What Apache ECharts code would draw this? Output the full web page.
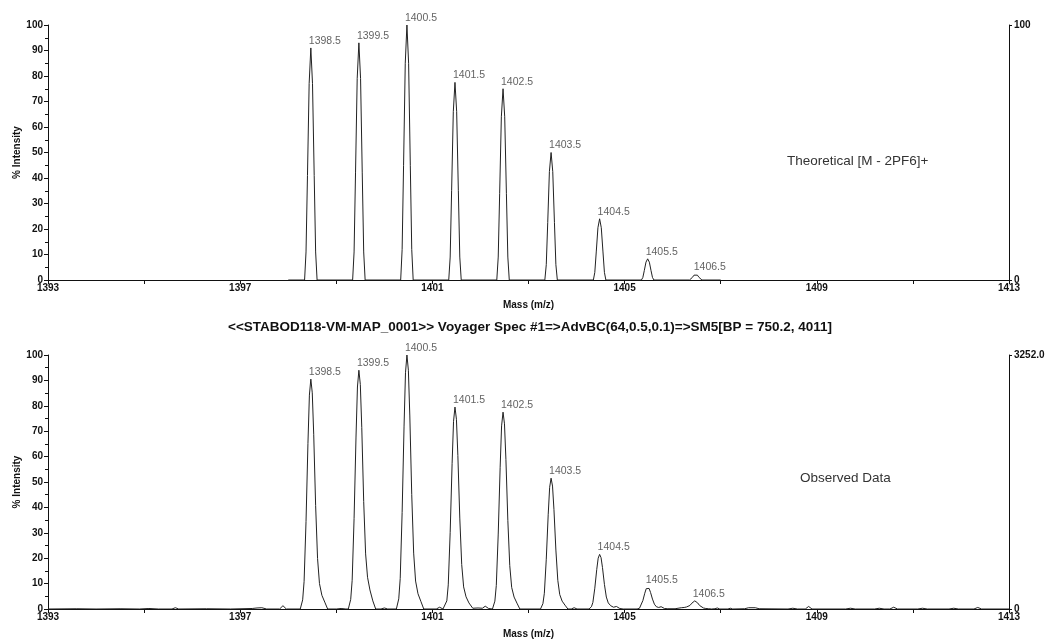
<!DOCTYPE html>
<html>
<head>
<meta charset="utf-8">
<script src="https://cdn.jsdelivr.net/npm/echarts@6/dist/echarts.min.js"></script>
<style>
  html, body { margin: 0; padding: 0; background: #fff; }
  #chart { width: 1050px; height: 641px; }
</style>
</head>
<body>
<div id="chart"></div>
<script>
// m/z axis ticks
const massTicks = { min: 1393, max: 1413, step: 4 };

// Theoretical isotope pattern, [m/z, % intensity]
const theoreticalSpectrum = [
  [1398.0, 0],
  [1398.34, 0], [1398.37, 11], [1398.40, 41], [1398.435, 77], [1398.47, 91], [1398.505, 77], [1398.54, 41], [1398.57, 11], [1398.60, 0],
  [1399.34, 0], [1399.37, 11], [1399.40, 42], [1399.435, 79], [1399.47, 93], [1399.505, 79], [1399.54, 42], [1399.57, 11], [1399.60, 0],
  [1400.34, 0], [1400.37, 12], [1400.40, 45], [1400.435, 85], [1400.47, 100], [1400.505, 85], [1400.54, 45], [1400.57, 12], [1400.60, 0],
  [1401.34, 0], [1401.37, 9], [1401.40, 35], [1401.435, 66], [1401.47, 77.5], [1401.505, 66], [1401.54, 35], [1401.57, 9], [1401.60, 0],
  [1402.34, 0], [1402.37, 9], [1402.40, 34], [1402.435, 64], [1402.47, 75], [1402.505, 64], [1402.54, 34], [1402.57, 9], [1402.60, 0],
  [1403.34, 0], [1403.37, 6], [1403.40, 22.5], [1403.435, 42.5], [1403.47, 50], [1403.505, 42.5], [1403.54, 22.5], [1403.57, 6], [1403.60, 0],
  [1404.35, 0], [1404.38, 3], [1404.41, 11], [1404.445, 20.5], [1404.48, 24], [1404.515, 20.5], [1404.55, 11], [1404.58, 3], [1404.61, 0],
  [1405.35, 0], [1405.38, 1], [1405.41, 3.7], [1405.445, 7], [1405.48, 8.3], [1405.515, 7], [1405.55, 3.7], [1405.58, 1], [1405.61, 0],
  [1406.35, 0], [1406.38, 0.3], [1406.41, 1], [1406.445, 1.9], [1406.48, 2.2], [1406.515, 1.9], [1406.55, 1], [1406.58, 0.3], [1406.61, 0],
  [1407.0, 0]
];

// Measured profile, [m/z, % intensity]
const observedSpectrum = [
  [1393.0, 0], [1393.6, 0.1], [1394.0, 0], [1394.5, 0.1], [1394.9, 0], [1395.1, 0.2], [1395.3, 0],
  [1395.58, 0], [1395.65, 0.5], [1395.72, 0], [1396.3, 0.1], [1396.8, 0], [1397.25, 0.2],
  [1397.35, 0.4], [1397.45, 0.5], [1397.55, 0], [1397.82, 0], [1397.89, 1.3], [1397.96, 0],
  [1398.25, 0], [1398.30, 3.6], [1398.33, 10.9], [1398.37, 34.4], [1398.41, 65.2], [1398.44, 84.2], [1398.47, 90.5],
  [1398.50, 85.1], [1398.53, 68.8], [1398.57, 40.7], [1398.61, 19.9], [1398.65, 10], [1398.70, 5.4], [1398.76, 2.7], [1398.82, 0],
  [1399.0, 0], [1399.1, 0.2], [1399.2, 0],
  [1399.25, 0], [1399.30, 3.8], [1399.33, 11.3], [1399.37, 35.7], [1399.41, 67.7], [1399.44, 87.4], [1399.47, 94],
  [1399.50, 88.4], [1399.53, 71.4], [1399.57, 42.3], [1399.61, 21.7], [1399.65, 12.5], [1399.70, 7.5], [1399.76, 3.2], [1399.82, 0],
  [1399.93, 0], [1400.0, 0.4], [1400.07, 0],
  [1400.25, 0], [1400.30, 4], [1400.33, 12], [1400.37, 38], [1400.41, 72], [1400.44, 93], [1400.47, 100],
  [1400.50, 94], [1400.53, 76], [1400.57, 45], [1400.61, 22], [1400.65, 11], [1400.70, 6], [1400.76, 3], [1400.82, 0],
  [1401.08, 0], [1401.15, 0.7], [1401.22, 0],
  [1401.25, 0], [1401.30, 3.2], [1401.33, 9.5], [1401.37, 30.2], [1401.41, 57.2], [1401.44, 73.9], [1401.47, 79.5],
  [1401.50, 74.7], [1401.53, 60.4], [1401.57, 35.8], [1401.61, 17.5], [1401.65, 8.7], [1401.70, 4.8], [1401.76, 2.4], [1401.84, 0.3],
  [1401.95, 0.4], [1402.04, 0.3], [1402.10, 1.1], [1402.17, 0.2],
  [1402.25, 0], [1402.30, 3.1], [1402.33, 9.3], [1402.37, 29.5], [1402.41, 55.8], [1402.44, 72.1], [1402.47, 77.5],
  [1402.50, 72.9], [1402.53, 58.9], [1402.57, 34.9], [1402.61, 17.1], [1402.65, 8.5], [1402.70, 4.7], [1402.76, 2.3], [1402.82, 0],
  [1403.25, 0], [1403.30, 2.1], [1403.33, 6.2], [1403.37, 19.6], [1403.41, 37.1], [1403.44, 47.9], [1403.47, 51.5],
  [1403.50, 48.4], [1403.53, 39.1], [1403.57, 23.2], [1403.61, 11.3], [1403.65, 5.7], [1403.70, 3.1], [1403.76, 1.5], [1403.82, 0],
  [1403.89, 0], [1403.95, 0.5], [1404.01, 0],
  [1404.26, 0], [1404.31, 0.9], [1404.34, 2.6], [1404.38, 8.2], [1404.42, 15.5], [1404.45, 20], [1404.48, 21.5],
  [1404.51, 20.2], [1404.54, 16.3], [1404.58, 9.7], [1404.62, 4.7], [1404.66, 2.4], [1404.71, 1.3], [1404.77, 0.7], [1404.83, 1.0], [1404.9, 0.2], [1404.97, 0],
  [1405.26, 0], [1405.31, 0.3], [1405.34, 1], [1405.38, 3.3], [1405.42, 6.2], [1405.45, 8], [1405.48, 8.6],
  [1405.51, 8.1], [1405.54, 6.5], [1405.58, 3.9], [1405.62, 1.9], [1405.66, 0.9], [1405.71, 0.6], [1405.76, 0.9], [1405.83, 0.2], [1405.9, 0.1],
  [1406.05, 0.1], [1406.18, 0.5], [1406.24, 0.6], [1406.29, 0.8], [1406.32, 1.0], [1406.36, 1.4], [1406.40, 2.3], [1406.43, 3.0], [1406.46, 3.2],
  [1406.49, 3.0], [1406.52, 2.4], [1406.56, 1.4], [1406.60, 0.7], [1406.64, 0.4], [1406.69, 0.2], [1406.75, 0.1], [1406.81, 0],
  [1406.88, 0.1], [1406.93, 0.4], [1406.98, 0],
  [1407.15, 0], [1407.2, 0.3], [1407.25, 0], [1407.5, 0.1], [1407.58, 0.5], [1407.72, 0.5], [1407.8, 0.1],
  [1408.4, 0], [1408.5, 0.3], [1408.6, 0], [1408.76, 0], [1408.83, 1.0], [1408.9, 0],
  [1409.6, 0], [1409.7, 0.3], [1409.8, 0], [1410.2, 0], [1410.3, 0.3], [1410.4, 0],
  [1410.52, 0], [1410.6, 0.7], [1410.68, 0], [1411.1, 0], [1411.2, 0.3], [1411.3, 0],
  [1411.75, 0], [1411.85, 0.3], [1411.95, 0], [1412.27, 0], [1412.35, 0.6], [1412.43, 0], [1413.0, 0]
];

// Labelled peak maxima, [m/z, % intensity]
const theoreticalPeaks = [
  [1398.47, 91], [1399.47, 93], [1400.47, 100], [1401.47, 77.5], [1402.47, 75],
  [1403.47, 50], [1404.48, 24], [1405.48, 8.3], [1406.48, 2.2]
];
const observedPeaks = [
  [1398.47, 90.5], [1399.47, 94], [1400.47, 100], [1401.47, 79.5], [1402.47, 77.5],
  [1403.47, 51.5], [1404.48, 21.5], [1405.48, 8.6], [1406.46, 3.2]
];

// Absolute intensity scale on the right-hand axes
const theoreticalScaleMax = 100;
const observedScaleMax = 3252.0;

const titleText = '<<STABOD118-VM-MAP_0001>> Voyager Spec #1=>AdvBC(64,0.5,0.1)=>SM5[BP = 750.2, 4011]';
const xName = 'Mass (m/z)';
const yName = '% Intensity';

const FONT = 'Arial, "Liberation Sans", sans-serif';
const INK = '#111';

function massAxis(gridIndex) {
  return {
    type: 'value', gridIndex,
    min: massTicks.min, max: massTicks.max, interval: massTicks.step,
    name: xName, nameLocation: 'middle', nameGap: 20, nameMoveOverlap: false,
    nameTextStyle: { fontFamily: FONT, fontWeight: 'bold', fontSize: 10, color: INK },
    axisLine: { show: true, onZero: false, lineStyle: { color: INK, width: 1 } },
    axisTick: { show: true, length: 4, lineStyle: { color: INK } },
    minorTick: { show: true, splitNumber: 2, length: 4, lineStyle: { color: INK } },
    splitLine: { show: false },
    axisLabel: {
      fontFamily: FONT, fontWeight: 'bold', fontSize: 10, color: INK, margin: 3,
      formatter: v => String(v)
    }
  };
}

function percentAxis(gridIndex) {
  return {
    type: 'value', gridIndex, position: 'left',
    min: 0, max: 100, interval: 10,
    name: yName, nameLocation: 'middle', nameGap: 26, nameRotate: 90, nameMoveOverlap: false,
    nameTextStyle: { fontFamily: FONT, fontWeight: 'bold', fontSize: 10, color: INK },
    axisLine: { show: true, onZero: false, lineStyle: { color: INK, width: 1 } },
    axisTick: { show: true, length: 4, lineStyle: { color: INK } },
    minorTick: { show: true, splitNumber: 2, length: 3, lineStyle: { color: INK } },
    splitLine: { show: false },
    axisLabel: { fontFamily: FONT, fontWeight: 'bold', fontSize: 10, color: INK, margin: 5 }
  };
}

function countsAxis(gridIndex, maxVal, digits) {
  return {
    type: 'value', gridIndex, position: 'right',
    min: 0, max: maxVal, interval: maxVal,
    axisLine: { show: true, onZero: false, lineStyle: { color: INK, width: 1 } },
    axisTick: { show: true, length: 3, lineStyle: { color: INK } },
    splitLine: { show: false },
    axisLabel: {
      fontFamily: FONT, fontWeight: 'bold', fontSize: 10, color: INK, margin: 5,
      formatter: v => (v === 0 ? '0' : v.toFixed(digits))
    }
  };
}

function profileSeries(data, xi, yi) {
  return {
    type: 'line', xAxisIndex: xi, yAxisIndex: yi, data,
    showSymbol: false, symbol: 'none', smooth: false,
    lineStyle: { color: '#222', width: 1 },
    silent: true, animation: false, z: 3
  };
}

function peakLabels(data, xi, yi) {
  return {
    type: 'scatter', xAxisIndex: xi, yAxisIndex: yi, data,
    symbolSize: 0, silent: true, animation: false, z: 4,
    label: {
      show: true, position: 'right', distance: 0, offset: [-2, -7],
      fontFamily: FONT, fontSize: 10.5, color: '#3a3a3a',
      formatter: p => p.value[0].toFixed(1)
    }
  };
}

const chart = echarts.init(document.getElementById('chart'), null, { renderer: 'canvas' });
chart.setOption({
  backgroundColor: '#fff',
  animation: false,
  title: {
    text: titleText, left: 525, top: 315, textAlign: 'center',
    textStyle: { fontFamily: FONT, fontWeight: 'bold', fontSize: 13.5, color: INK }
  },
  grid: [
    { left: 48, right: 41, top: 25, height: 255 },
    { left: 48, right: 41, top: 355, height: 254 }
  ],
  xAxis: [massAxis(0), massAxis(1)],
  yAxis: [
    percentAxis(0),
    countsAxis(0, theoreticalScaleMax, 0),
    percentAxis(1),
    countsAxis(1, observedScaleMax, 1)
  ],
  series: [
    profileSeries(theoreticalSpectrum, 0, 0),
    peakLabels(theoreticalPeaks, 0, 0),
    profileSeries(observedSpectrum, 1, 2),
    peakLabels(observedPeaks, 1, 2)
  ],
  graphic: [
    { type: 'text', left: 787, top: 154,
      style: { text: 'Theoretical [M - 2PF6]+', font: '13.5px ' + FONT, fill: '#333' } },
    { type: 'text', left: 800, top: 471,
      style: { text: 'Observed Data', font: '13.5px ' + FONT, fill: '#333' } }
  ]
});
</script>
</body>
</html>
